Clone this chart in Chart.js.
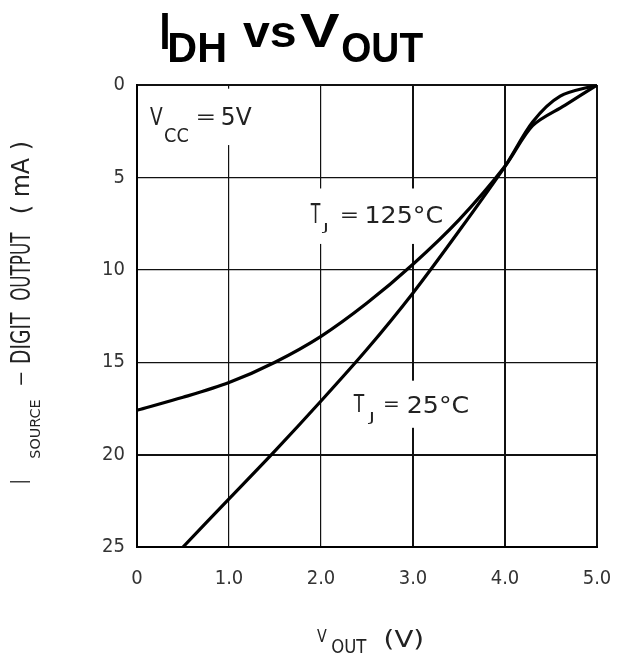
<!DOCTYPE html>
<html>
<head>
<meta charset="utf-8">
<script src="https://cdn.jsdelivr.net/npm/chart.js@4.4.1/dist/chart.umd.min.js"></script>
<style>
html,body{margin:0;padding:0;background:#fff;}
#wrap{width:620px;height:661px;position:relative;}
</style>
</head>
<body>
<div id="wrap"><canvas id="c" width="620" height="661"></canvas></div>
<script>
// Data
const vout25 = [0.5, 1.0, 1.5, 2.0, 2.5, 3.0, 3.5, 4.0, 4.3, 4.6, 5.0];
const isrc25 = [25, 22.4, 19.8, 17.1, 14.3, 11.25, 7.9, 4.4, 2.0, 0.6, 0];
const vout125 = [0, 0.5, 1.0, 1.5, 2.0, 2.5, 3.0, 3.5, 4.0, 4.3, 4.65, 5.0];
const isrc125 = [17.6, 16.9, 16.1, 15.0, 13.6, 11.8, 9.7, 7.3, 4.4, 2.2, 1.1, 0];
const xTicks = [0, 1, 2, 3, 4, 5];
const yTicks = [0, 5, 10, 15, 20, 25];
const xTickLabels = ['0', '1.0', '2.0', '3.0', '4.0', '5.0'];
const yTickLabels = ['0', '5', '10', '15', '20', '25'];

const pts = (xs, ys) => xs.map((x, i) => ({x: x, y: ys[i]}));
const TICKFONT = '"DejaVu Sans Condensed", "DejaVu Sans", sans-serif';
const SANS = '"DejaVu Sans", sans-serif';
const BOLD = '"Liberation Sans", Arial, sans-serif';

// draw text so that its ink fills the box x0..x1, y0..y1
function inkBox(ctx, text, x0, y0, x1, y1, font) {
  ctx.save();
  ctx.font = font;
  ctx.textAlign = 'left';
  ctx.textBaseline = 'alphabetic';
  const m = ctx.measureText(text);
  const inkW = m.actualBoundingBoxRight + m.actualBoundingBoxLeft;
  const inkH = m.actualBoundingBoxAscent + m.actualBoundingBoxDescent;
  const sx = (x1 - x0) / inkW;
  const sy = (y1 - y0) / inkH;
  ctx.translate(x0, y0);
  ctx.scale(sx, sy);
  ctx.fillText(text, m.actualBoundingBoxLeft, m.actualBoundingBoxAscent);
  ctx.restore();
}

const annotations = {
  id: 'annotations',
  beforeDatasetsDraw(chart) {
    const ctx = chart.ctx;
    const xs = chart.scales.x, ys = chart.scales.y;
    ctx.save();
    // white boxes that interrupt grid lines behind the labels
    const boxes = [
      {v0: 0.05, v1: 1.35, i0: 0.2, i1: 3.25},
      {v0: 1.82, v1: 3.37, i0: 5.6, i1: 8.6},
      {v0: 2.27, v1: 3.66, i0: 16.0, i1: 18.55}
    ];
    ctx.fillStyle = '#fff';
    boxes.forEach(b => {
      const x0 = xs.getPixelForValue(b.v0), x1 = xs.getPixelForValue(b.v1);
      const y0 = ys.getPixelForValue(b.i0), y1 = ys.getPixelForValue(b.i1);
      ctx.fillRect(x0, y0, x1 - x0, y1 - y0);
    });
    ctx.restore();
    ctx.save();
    ctx.fillStyle = '#222';
    const f = '20px ' + SANS;
    // Vcc = 5V
    inkBox(ctx, 'V', 150, 108, 163, 125, f);
    inkBox(ctx, 'CC', 165, 128, 188, 142, f);
    inkBox(ctx, '=', 198, 114, 214, 120, f);
    inkBox(ctx, '5V', 222, 108, 252, 125, f);
    // TJ = 125°C
    inkBox(ctx, 'T', 310, 205, 321, 223, f);
    inkBox(ctx, 'J', 321, 223, 327, 233, f);
    inkBox(ctx, '=', 342, 212, 357, 218, f);
    inkBox(ctx, '125°C', 367, 205, 442, 223, f);
    // TJ = 25°C
    inkBox(ctx, 'T', 353, 395, 365, 412, f);
    inkBox(ctx, 'J', 367, 412, 373, 423, f);
    inkBox(ctx, '=', 385, 401, 398, 407, f);
    inkBox(ctx, '25°C', 408, 395, 468, 413, f);
    ctx.restore();
  },
  afterDraw(chart) {
    const ctx = chart.ctx;
    ctx.save();
    // Title
    ctx.fillStyle = '#000';
    const b = 'bold 46px ' + BOLD;
    inkBox(ctx, 'I', 162, 13, 168, 49, b);
    inkBox(ctx, 'DH', 170, 32, 225, 62, b);
    inkBox(ctx, 'vs', 243, 23, 295, 47, b);
    inkBox(ctx, 'V', 300, 13, 340, 47, b);
    inkBox(ctx, 'OUT', 342, 32, 423, 62, b);
    // X axis title
    ctx.fillStyle = '#222';
    const f = '20px ' + SANS;
    inkBox(ctx, 'V', 317, 630, 327, 642, f);
    inkBox(ctx, 'OUT', 332, 639, 367, 653, f);
    inkBox(ctx, '(V)', 385, 630, 423, 650, f);
    // Y axis title (rotated -90deg): x' = -Y, y' = X
    ctx.rotate(-Math.PI / 2);
    inkBox(ctx, 'I', -483, 12, -481, 30, f);
    inkBox(ctx, 'SOURCE', -458, 30, -400, 40, f);
    inkBox(ctx, '-', -387, 20, -371, 22, f);
    inkBox(ctx, 'DIGIT', -363, 12, -312, 30, f);
    inkBox(ctx, 'OUTPUT', -300, 12, -232, 30, f);
    inkBox(ctx, '( mA )', -213, 10, -142, 33, f);
    ctx.restore();
  }
};

const xWidths = [2, 1.2, 1.2, 2, 2, 2];
const yWidths = [2, 1.2, 1.2, 1.2, 2, 2];

new Chart(document.getElementById('c'), {
  type: 'line',
  data: {
    datasets: [
      {label: 'TJ = 25°C', data: pts(vout25, isrc25), borderColor: '#000', borderWidth: 3.2,
       pointRadius: 0, fill: false, tension: 0.3},
      {label: 'TJ = 125°C', data: pts(vout125, isrc125), borderColor: '#000', borderWidth: 3.2,
       pointRadius: 0, fill: false, tension: 0.3}
    ]
  },
  options: {
    responsive: false,
    animation: false,
    layout: {padding: {top: 85, right: 23, left: 0, bottom: 0}},
    plugins: {legend: {display: false}, tooltip: {enabled: false}, title: {display: false}},
    scales: {
      x: {
        type: 'linear', min: 0, max: 5,
        afterBuildTicks: s => { s.ticks = xTicks.map(v => ({value: v})); },
        afterFit: s => { s.height = 114; s.paddingRight = 0; s.paddingLeft = 0; },
        ticks: {
          padding: 20, color: '#333',
          font: {family: TICKFONT, size: 20},
          callback: (v) => xTickLabels[xTicks.indexOf(v)]
        },
        grid: {
          color: '#111', drawTicks: false,
          lineWidth: c => xWidths[c.index] !== undefined ? xWidths[c.index] : 1
        },
        border: {display: true, color: '#000', width: 2}
      },
      y: {
        type: 'linear', min: 0, max: 25, reverse: true,
        afterBuildTicks: s => { s.ticks = yTicks.map(v => ({value: v})); },
        afterFit: s => { s.width = 137; s.paddingTop = 0; s.paddingBottom = 0; },
        ticks: {
          padding: 12, color: '#333',
          font: {family: TICKFONT, size: 20},
          callback: (v) => yTickLabels[yTicks.indexOf(v)]
        },
        grid: {
          color: '#111', drawTicks: false,
          lineWidth: c => yWidths[c.index] !== undefined ? yWidths[c.index] : 1
        },
        border: {display: true, color: '#000', width: 2}
      }
    }
  },
  plugins: [annotations]
});
</script>
</body>
</html>
